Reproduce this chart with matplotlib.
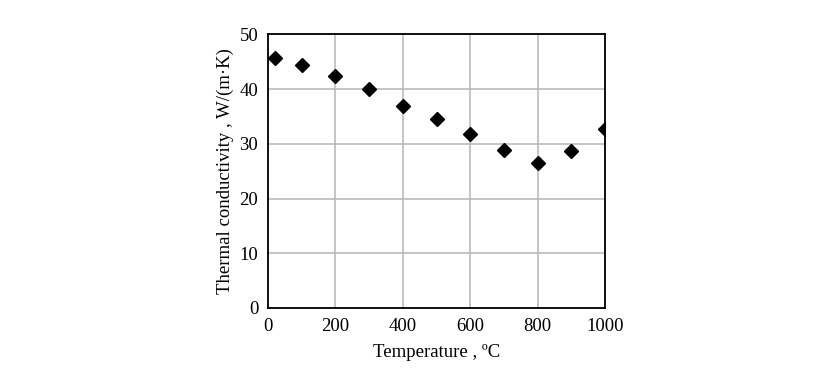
import matplotlib
matplotlib.use("Agg")
import matplotlib.pyplot as plt

temperature = [20, 100, 200, 300, 400, 500, 600, 700, 800, 900, 1000]
conductivity = [45.7, 44.4, 42.4, 40.0, 36.9, 34.5, 31.8, 28.9, 26.4, 28.6, 32.7]
x_ticks = [0, 200, 400, 600, 800, 1000]
y_ticks = [0, 10, 20, 30, 40, 50]

plt.rcParams['font.family'] = ['Liberation Serif', 'DejaVu Serif']

fig = plt.figure(figsize=(8.38, 3.85), dpi=100)
ax = fig.add_axes([268/838, 1-308/385, (605-268)/838, (308-34.3)/385])
ax.plot(temperature, conductivity, linestyle='none', marker='D', markersize=7.5,
        color='black', zorder=3)
ax.set_xlim(0, 1000)
ax.set_ylim(0, 50)
ax.set_xticks(x_ticks)
ax.set_yticks(y_ticks)
ax.grid(True, color='#b5b5b5', linewidth=1.1)
ax.set_axisbelow(True)
for s in ax.spines.values():
    s.set_color('black')
    s.set_linewidth(1.3)
ax.tick_params(length=0, labelsize=13.5, pad=7)
ax.set_xlabel('Temperature , ºC', fontsize=13.5, labelpad=7)
ax.set_ylabel('Thermal conductivity , W/(m·K)', fontsize=13.5, labelpad=4)
fig.savefig('out.png', dpi=100)
